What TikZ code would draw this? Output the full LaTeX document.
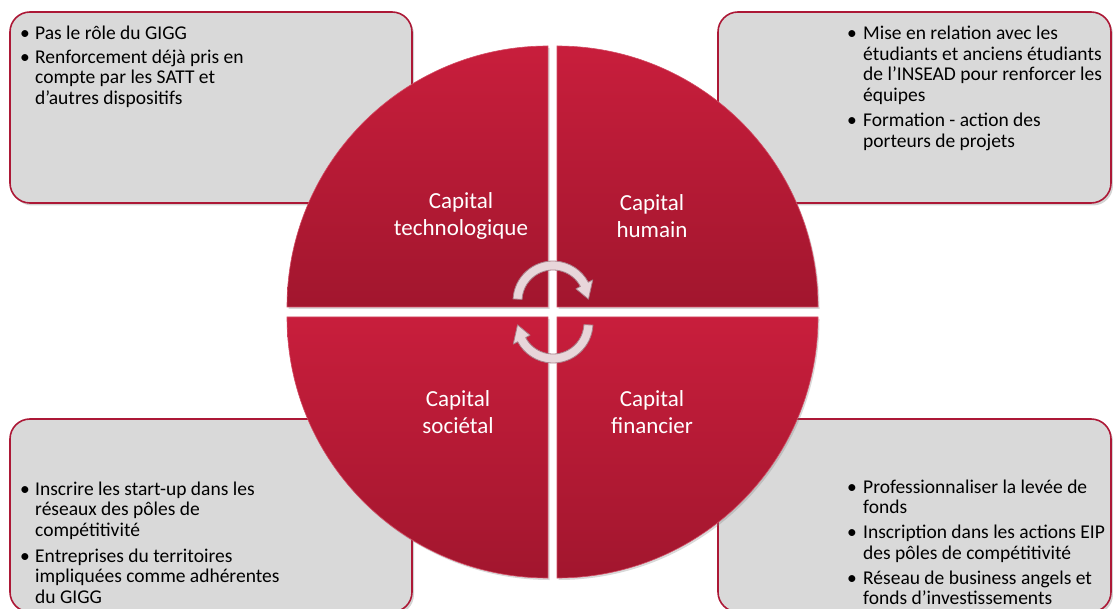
\documentclass[tikz,border=0pt]{standalone}
\usepackage{fontspec}
\setmainfont{Carlito}
\usetikzlibrary{shadows}
\definecolor{boxfill}{RGB}{217,217,217}
\definecolor{boxline}{RGB}{172,24,54}
\definecolor{qtop}{RGB}{200,30,60}
\definecolor{qbot}{RGB}{162,22,46}
\definecolor{arrfill}{RGB}{232,214,218}
\definecolor{arrline}{RGB}{170,128,138}
\newcommand{\mlines}[1]{\vtop{\halign{##\hfil\cr #1\crcr}}}
\begin{document}
\begin{tikzpicture}[x=1pt,y=-1pt,
  infobox/.style={draw=boxline, line width=1.6pt, fill=boxfill, rounded corners=20pt,
    drop shadow={shadow xshift=2pt, shadow yshift=-2.5pt, opacity=0.35}},
  quad/.style={top color=qtop, bottom color=qbot, draw=qtop!80!white, line width=0.6pt,
    drop shadow={shadow xshift=1.5pt, shadow yshift=-2pt, opacity=0.3}},
  qlabel/.style={text=white, align=center, font=\fontsize{23}{27}\selectfont, inner sep=0pt},
  btxt/.style={anchor=base west, inner sep=0pt, font=\fontsize{19.5}{20.5}\selectfont},
  bul/.style={anchor=base west, inner sep=0pt, font=\fontsize{19.5}{20.5}\selectfont},
  cyc/.style={fill=arrfill, draw=arrline, line width=0.8pt, line join=round}
]
\useasboundingbox (0,0) rectangle (1113,609);
\clip (0,0) rectangle (1113,609);

% info boxes
\node[infobox, minimum width=402pt, minimum height=191pt] (tlbox) at (211,107.5) {};
\node[infobox, minimum width=393pt, minimum height=191pt] (trbox) at (914.5,107.5) {};
\node[infobox, minimum width=402pt, minimum height=193pt] (blbox) at (211,515.5) {};
\node[infobox, minimum width=393pt, minimum height=193pt] (brbox) at (914.5,515.5) {};

% quadrants
\path[quad] (548,307) -- (287,307) arc[start angle=180, end angle=270, radius=261] -- cycle;
\path[quad] (557,307) -- (557,46) arc[start angle=270, end angle=360, radius=261] -- cycle;
\path[quad] (548,317) -- (287,317) arc[start angle=180, end angle=90, radius=261] -- cycle;
\path[quad] (557,317) -- (818,317) arc[start angle=0, end angle=90, radius=261] -- cycle;

% quadrant labels
\node[qlabel] (qtl) at (461,216) {Capital\\technologique};
\node[qlabel] (qtr) at (652,216) {Capital\\humain};
\node[qlabel] (qbl) at (458,412) {Capital\\sociétal};
\node[qlabel] (qbr) at (652,412) {Capital\\financier};

% cycle arrows
\path[cyc] ([shift={(553,301)}]183:40) arc[start angle=183, end angle=332, radius=40]
  -- ([shift={(553,301)}]332:45) -- ([shift={(553,301)}]357:35.5) -- ([shift={(553,301)}]332:26)
  -- ([shift={(553,301)}]332:31) arc[start angle=332, end angle=183, radius=31] -- cycle;
\path[cyc] ([shift={(553,323)}]3:40) arc[start angle=3, end angle=152, radius=40]
  -- ([shift={(553,323)}]152:45) -- ([shift={(553,323)}]177:35.5) -- ([shift={(553,323)}]152:26)
  -- ([shift={(553,323)}]152:31) arc[start angle=152, end angle=3, radius=31] -- cycle;

% top-left texts
\node[bul] (tlb1) at (20,40) {•};
\node[btxt] (tlt1) at (35,40) {Pas le rôle du GIGG};
\node[bul] (tlb2) at (20,63.5) {•};
\node[btxt] (tlt2) at (35,63.5) {\mlines{Renforcement déjà pris en\cr compte par les SATT et\cr d’autres dispositifs}};

% top-right texts
\node[bul] (trb1) at (847,40) {•};
\node[btxt] (trt1) at (863,40) {\mlines{Mise en relation avec les\cr étudiants et anciens étudiants\cr de l’INSEAD pour renforcer les\cr équipes}};
\node[bul] (trb2) at (847,127) {•};
\node[btxt] (trt2) at (863,127) {\mlines{Formation - action des\cr porteurs de projets}};

% bottom-left texts
\node[bul] (blb1) at (20,495) {•};
\node[btxt] (blt1) at (35,495) {\mlines{Inscrire les start-up dans les\cr réseaux des pôles de\cr compétitivité}};
\node[bul] (blb2) at (20,562) {•};
\node[btxt] (blt2) at (35,562) {\mlines{Entreprises du territoires\cr impliquées comme adhérentes\cr du GIGG}};

% bottom-right texts
\node[bul] (brb1) at (847,493) {•};
\node[btxt] (brt1) at (863,493) {\mlines{Professionnaliser la levée de\cr fonds}};
\node[bul] (brb2) at (847,538.5) {•};
\node[btxt] (brt2) at (863,538.5) {\mlines{Inscription dans les actions EIP\cr des pôles de compétitivité}};
\node[bul] (brb3) at (847,584) {•};
\node[btxt] (brt3) at (863,584) {\mlines{Réseau de business angels et\cr fonds d’investissements}};
\end{tikzpicture}
\end{document}
